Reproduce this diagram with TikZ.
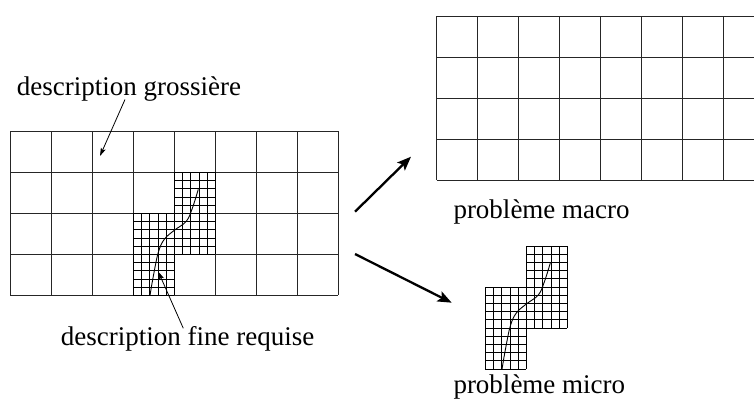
\documentclass[tikz,border=0pt]{standalone}
\usepackage{fontspec}
\setmainfont{Liberation Serif}
\usetikzlibrary{arrows.meta}
\tikzset{
  coarse/.style={line width=1pt, draw=black!85},
  fineln/.style={line width=0.7pt, draw=black},
  curveln/.style={line width=0.9pt, draw=black},
  lbl/.style={inner sep=0pt, anchor=base west, font=\fontsize{27}{30}\selectfont},
  bigarrow/.style={line width=2.3pt, -{Stealth[length=14pt,width=11pt,inset=3pt]}},
  thinarrow/.style={line width=0.8pt, -{Stealth[length=8pt,width=5pt,inset=1.5pt]}},
  fineregion/.pic={
    \foreach \i in {0,...,5} {
      \draw[fineln] ({8.2*\i},41) -- ({8.2*\i},123);
      \draw[fineln] ({41+8.2*\i},0) -- ({41+8.2*\i},82);
    }
    \foreach \j in {0,...,10} {
      \draw[fineln] (0,{41+8.2*\j}) -- (41,{41+8.2*\j});
      \draw[fineln] (41,{8.2*\j}) -- (82,{8.2*\j});
    }
    \draw[curveln] plot[smooth, tension=0.6] coordinates {(16.7,123) (20,104) (25,80) (31,67) (41,58) (53,49) (59,36) (65,17)};
  }
}
\begin{document}
\begin{tikzpicture}[x=1pt, y=-1pt]
\useasboundingbox (0,0) rectangle (754,405);
\clip (0,0) rectangle (754,405);
% coarse grid (left)
\foreach \i in {0,...,8} \draw[coarse] ({10+41*\i},131) -- ({10+41*\i},295);
\foreach \j in {0,...,4} \draw[coarse] (10,{131+41*\j}) -- (338,{131+41*\j});
% fine region on the coarse grid
\pic at (133.3,172.3) {fineregion};
% macro grid (right)
\foreach \i in {0,...,8} \draw[coarse] ({436.7+41*\i},16) -- ({436.7+41*\i},180);
\foreach \j in {0,...,4} \draw[coarse] (436.7,{16+41*\j}) -- (764.7,{16+41*\j});
% micro problem
\pic at (485.3,246) {fineregion};
% labels
\node[lbl] (gross) at (16.7,95) {description grossière};
\node[lbl] (finereq) at (60.7,345) {description fine requise};
\node[lbl] (macro) at (453.3,218) {problème macro};
\node[lbl] (micro) at (453.3,393) {problème micro};
% small arrows
\coordinate (g0) at (125,99.5);
\coordinate (g1) at (100,156);
\coordinate (f0) at (183.3,328.3);
\coordinate (f1) at (158.3,271.7);
\draw[thinarrow] (g0) -- (g1);
\draw[thinarrow] (f0) -- (f1);
% big arrows
\coordinate (a0) at (355,211.7);
\coordinate (a1) at (411,156.7);
\coordinate (b0) at (355,254);
\coordinate (b1) at (451.7,302.7);
\draw[bigarrow] (a0) -- (a1);
\draw[bigarrow] (b0) -- (b1);
\end{tikzpicture}
\end{document}
